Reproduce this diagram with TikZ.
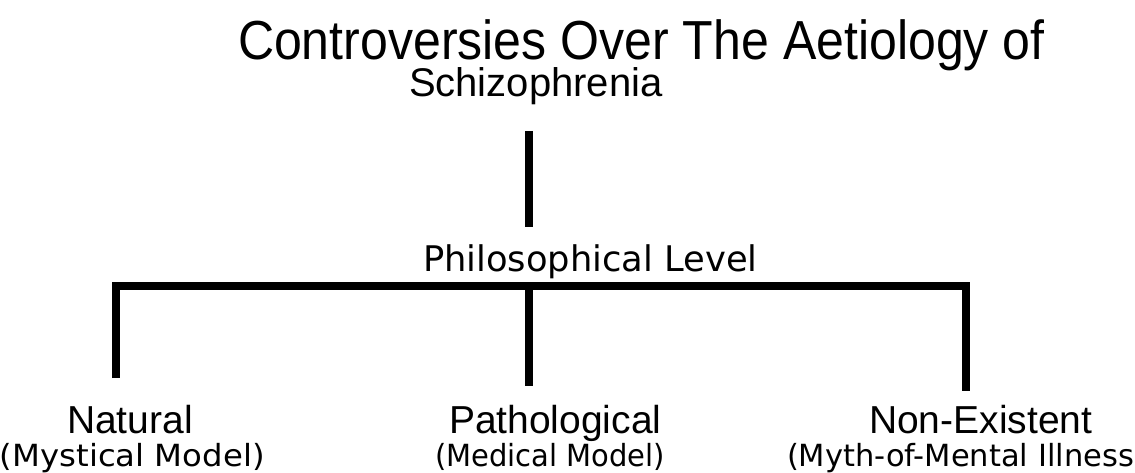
\documentclass[tikz,border=0pt]{standalone}
\usepackage{fontspec}
\usepackage{graphicx}
\setmainfont{Liberation Sans}
\newfontfamily\lucida{DejaVu Sans}
\newcommand\fsz[1]{\fontsize{#1}{#1}\selectfont}
\tikzset{
  conn/.style={line width=8pt, black, line cap=butt, line join=miter},
  lbl/.style={inner sep=0pt, outer sep=0pt, anchor=base west},
}
\begin{document}
\begin{tikzpicture}[x=1pt, y=-1pt]
\fill[white] (0,0) rectangle (1135,473);
\useasboundingbox (0,0) rectangle (1135,473);

% texts
\node[lbl] (title1) at (238,60) {\fsz{55}\scalebox{0.91}[1]{Controversies Over The Aetiology of}};
\node[lbl] (title2) at (409,97) {\fsz{40}Schizophrenia};
\node[lbl] (phil) at (423,271) {\lucida\fsz{35.3}Philosophical Level};
\node[lbl] (nat) at (67,433) {\fsz{39}Natural};
\node[lbl] (path) at (449,433) {\fsz{39}Pathological};
\node[lbl] (nonex) at (869,433) {\fsz{39}Non-Existent};
\node[lbl] (natsub) at (0,466) {\lucida\fsz{30.5}\scalebox{1.06}[1]{(Mystical Model)}};
\node[lbl] (pathsub) at (435,466) {\lucida\fsz{30.5}\scalebox{0.95}[1]{(Medical Model)}};
\node[lbl] (nonexsub) at (787,466) {\lucida\fsz{30.5}(Myth-of-Mental Illness};

% connector points
\coordinate (ttop) at (529,131);
\coordinate (tbot) at (529,227);
\coordinate (bl) at (115.5,286);
\coordinate (bm) at (529,286);
\coordinate (br) at (966,286);
\coordinate (ld) at (115.5,378);
\coordinate (md) at (529,386);
\coordinate (rd) at (966,391);

\draw[conn] (ttop) -- (tbot);
\draw[conn] (ld) -- (bl) -- (br) -- (rd);
\draw[conn] (bm) -- (md);
\end{tikzpicture}
\end{document}
